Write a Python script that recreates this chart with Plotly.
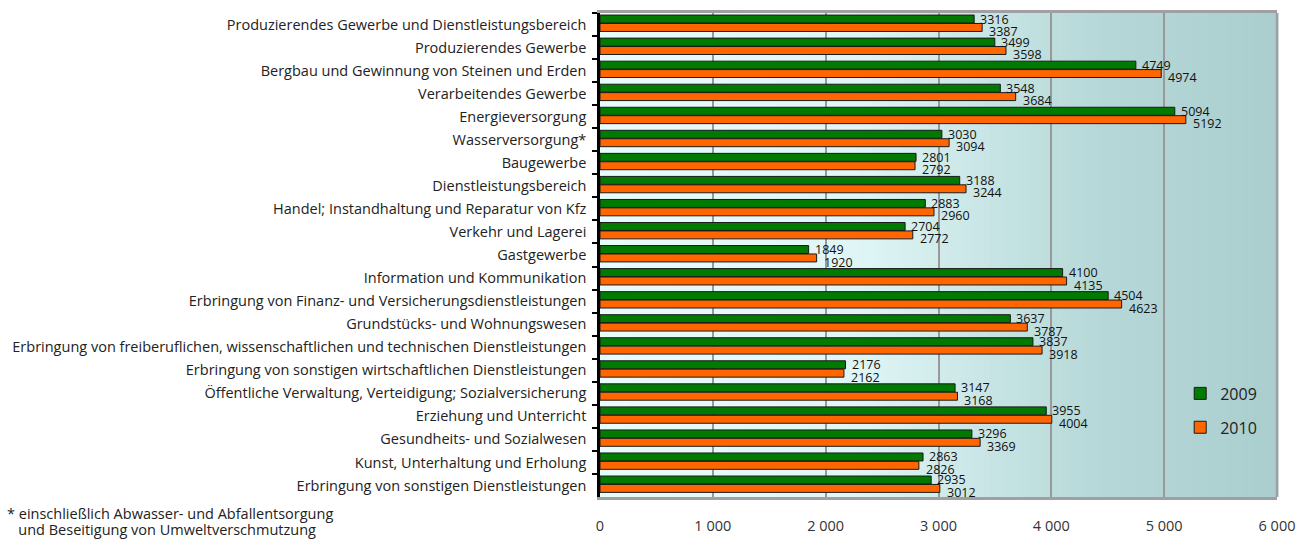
import plotly.graph_objects as go

categories = [
    "Produzierendes Gewerbe und Dienstleistungsbereich",
    "Produzierendes Gewerbe",
    "Bergbau und Gewinnung von Steinen und Erden",
    "Verarbeitendes Gewerbe",
    "Energieversorgung",
    "Wasserversorgung*",
    "Baugewerbe",
    "Dienstleistungsbereich",
    "Handel; Instandhaltung und Reparatur von Kfz",
    "Verkehr und Lagerei",
    "Gastgewerbe",
    "Information und Kommunikation",
    "Erbringung von Finanz- und Versicherungsdienstleistungen",
    "Grundstücks- und Wohnungswesen",
    "Erbringung von freiberuflichen, wissenschaftlichen und technischen Dienstleistungen",
    "Erbringung von sonstigen wirtschaftlichen Dienstleistungen",
    "Öffentliche Verwaltung, Verteidigung; Sozialversicherung",
    "Erziehung und Unterricht",
    "Gesundheits- und Sozialwesen",
    "Kunst, Unterhaltung und Erholung",
    "Erbringung von sonstigen Dienstleistungen",
]
values_2009 = [3316, 3499, 4749, 3548, 5094, 3030, 2801, 3188, 2883, 2704, 1849,
               4100, 4504, 3637, 3837, 2176, 3147, 3955, 3296, 2863, 2935]
values_2010 = [3387, 3598, 4974, 3684, 5192, 3094, 2792, 3244, 2960, 2772, 1920,
               4135, 4623, 3787, 3918, 2162, 3168, 4004, 3369, 2826, 3012]
series_names = ["2009", "2010"]
tick_values = [0, 1000, 2000, 3000, 4000, 5000, 6000]
footnote_lines = ["* einschließlich Abwasser- und Abfallentsorgung",
                  "\u00a0\u00a0 und Beseitigung von Umweltverschmutzung"]

GREEN = "#007a00"
ORANGE = "#ff6600"
FONT = "Open Sans"

fig = go.Figure()
fig.add_trace(go.Bar(y=categories, x=values_2009, name=series_names[0], orientation="h",
                     offset=-0.41, width=0.345,
                     marker=dict(color=GREEN, line=dict(color="#1a1a1a", width=1)),
                     legend="legend"))
fig.add_trace(go.Bar(y=categories, x=values_2010, name=series_names[1], orientation="h",
                     offset=-0.045, width=0.345,
                     marker=dict(color=ORANGE, line=dict(color="#1a1a1a", width=1)),
                     legend="legend2"))

annotations = []
for c, v in zip(categories, values_2009):
    annotations.append(dict(x=v, y=c, xref="x", yref="y", text=str(v), showarrow=False,
                            xanchor="left", yanchor="middle", xshift=4, yshift=5.5,
                            font=dict(family=FONT, size=12.5, color="#111")))
for c, v in zip(categories, values_2010):
    annotations.append(dict(x=v, y=c, xref="x", yref="y", text=str(v), showarrow=False,
                            xanchor="left", yanchor="middle", xshift=5, yshift=-7,
                            font=dict(family=FONT, size=12.5, color="#111")))

for line, yp in zip(footnote_lines, [-0.0348, -0.0676]):
    annotations.append(dict(xref="paper", yref="paper", x=-0.879, y=yp, xanchor="left", yanchor="middle",
                            align="left", showarrow=False, text=line,
                            font=dict(family=FONT, size=14.5, color="#222")))

# gradient background
def lerp(a, b, t):
    return tuple(int(round(a[i] + (b[i] - a[i]) * t)) for i in range(3))

stops = [(0.0, (232, 251, 251)), (0.38, (224, 246, 246)), (0.5, (210, 235, 235)),
         (0.62, (194, 225, 225)), (0.75, (182, 215, 215)), (1.0, (170, 206, 206))]

def color_at(t):
    for i in range(len(stops) - 1):
        t0, c0 = stops[i]
        t1, c1 = stops[i + 1]
        if t0 <= t <= t1:
            return lerp(c0, c1, (t - t0) / (t1 - t0))
    return stops[-1][1]

shapes = []
N = 120
for i in range(N):
    t = (i + 0.5) / N
    r, g, b = color_at(t)
    shapes.append(dict(type="rect", xref="x domain", yref="y domain", x0=i / N, x1=(i + 1) / N + 0.002,
                       y0=0, y1=1, fillcolor=f"rgb({r},{g},{b})", line=dict(width=0), layer="below"))
shapes.append(dict(type="line", xref="x domain", yref="y domain", x0=1, x1=1, y0=0, y1=1,
                   line=dict(color="#a0a0a0", width=2.5)))

fig.update_layout(
    width=1311, height=545,
    margin=dict(l=600, r=34, t=10, b=47),
    paper_bgcolor="white", plot_bgcolor="rgba(0,0,0,0)",
    barmode="group",
    separators=", ",
    font=dict(family=FONT, size=14.5, color="#222"),
    shapes=shapes, annotations=annotations,
    legend=dict(x=0.857, y=0.249, xanchor="left", yanchor="top", bgcolor="rgba(0,0,0,0)",
                font=dict(family=FONT, size=16, color="#222")),
    legend2=dict(x=0.857, y=0.179, xanchor="left", yanchor="top", bgcolor="rgba(0,0,0,0)",
                 font=dict(family=FONT, size=16, color="#222")),
    showlegend=True,
)
fig.update_xaxes(range=[0, 6000], tickvals=tick_values, tickformat=",d",
                 showgrid=True, gridcolor="#999999", gridwidth=2,
                 showline=True, linecolor="#a0a0a0", linewidth=2.5, mirror=True,
                 ticks="", ticklabelstandoff=14, zeroline=False,
                 tickfont=dict(family=FONT, size=14.5, color="#333"))
fig.update_yaxes(type="category", range=[len(categories) - 0.5, -0.5], autorange=False,
                 tickson="boundaries",
                 ticks="outside", ticklen=5, tickwidth=2, tickcolor="black",
                 showline=True, linecolor="black", linewidth=2.5, showgrid=False,
                 ticklabelstandoff=8,
                 tickfont=dict(family=FONT, size=14.5, color="#222"))

fig.write_html("out.html", config={"displayModeBar": False},
               post_script="document.body.style.margin='0';document.body.style.padding='0';")
